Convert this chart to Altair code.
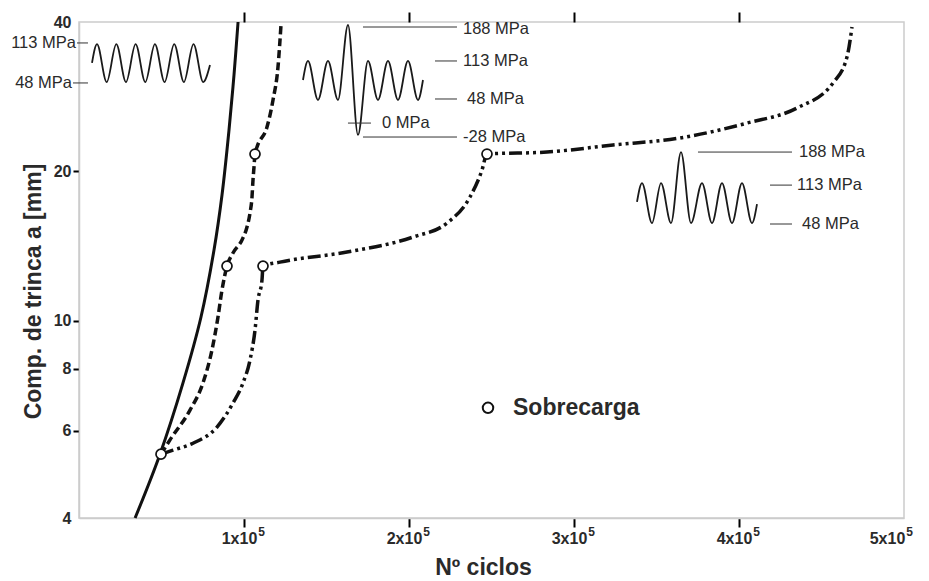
import altair as alt
import pandas as pd

# ---------- data ----------
# crack length curves: x = number of cycles, y = crack length a [mm]
const_x = [34000, 49090, 63030, 73940, 81820, 86670, 90900, 93930, 96400]
const_y = [4.0, 5.38, 7.49, 10.17, 13.88, 17.92, 24.2, 31.27, 40.0]

ol_x = [49700, 55150, 67270, 75150, 80600, 84240, 86670, 89700, 93330, 98790,
        101820, 103640, 104850, 105450, 106060, 106670, 107880, 113940, 117580,
        120600, 122420]
ol_y = [5.38, 5.75, 6.60, 7.49, 8.73, 10.17, 11.53, 12.88, 13.69, 14.54,
        15.44, 16.48, 17.75, 19.21, 20.40, 21.67, 22.39, 24.56, 27.85,
        32.46, 39.45]

olul_x = [49700, 56970, 69090, 83640, 93330, 99390, 103640, 106670, 108480,
          110910, 111520, 121820, 162420, 202420, 223030, 236970, 244240,
          247270, 283630, 323640, 364240, 404850, 435150, 456970, 465450, 468480]
olul_y = [5.38, 5.48, 5.66, 6.10, 6.82, 7.49, 8.33, 9.57, 11.00,
          12.08, 12.88, 13.12, 13.75, 14.74, 15.73, 17.75, 20.12,
          21.67, 21.87, 22.60, 23.35, 25.02, 26.83, 30.14, 34.0, 39.08]

# overload points (Sobrecarga)
over_x = [49700, 89700, 106670, 111520, 247270]
over_y = [5.38, 12.88, 21.67, 12.88, 21.67]

# schematic load signals (extrema of the drawn waves)
wave1_x = [7880, 10910, 16790, 22610, 28480, 34300, 40180, 46000, 51880,
           57700, 63570, 69390, 75270, 79390]
wave1_y = [33.08, 36.1, 30.27, 36.1, 30.27, 36.1, 30.27, 36.1, 30.27,
           36.1, 30.27, 36.1, 30.27, 32.76]
wave2_x = [135750, 138780, 144840, 150900, 156960, 163020, 169090, 175150,
           181210, 187270, 193330, 199390, 205450, 208480]
wave2_y = [30.56, 33.38, 27.85, 33.38, 27.85, 39.45, 23.68, 33.38,
           27.85, 33.38, 27.85, 33.38, 27.85, 30.56]
wave3_x = [338180, 341210, 347270, 352730, 358790, 364850, 370910, 377580,
           383640, 389700, 395760, 401820, 407880, 410910]
wave3_y = [17.35, 18.94, 15.73, 18.94, 15.73, 21.87, 15.73, 18.94,
           15.73, 18.94, 15.73, 18.94, 15.73, 17.18]

# stress level leader lines
lead_x1 = [-1210, -3640, 172120, 215760, 215760, 163020, 172120, 375150, 418790, 418790]
lead_x2 = [5450, 5450, 229090, 229090, 229090, 176960, 229090, 432120, 432120, 432120]
lead_y = [36.29, 30.14, 39.08, 33.38, 27.98, 25.02, 23.45, 21.87, 18.76, 15.66]

# stress level labels
lab_text = ["113 MPa", "48 MPa", "188 MPa", "113 MPa", "48 MPa", "0 MPa",
            "-28 MPa", "188 MPa", "113 MPa", "48 MPa"]
lab_x = [-1820, -4240, 232730, 232730, 235150, 183630, 232730, 436360, 435150, 438180]
lab_y = [36.29, 30.14, 38.8, 33.38, 27.98, 25.02, 23.45, 21.87, 18.76, 15.66]
lab_side = ["right", "right", "left", "left", "left", "left", "left", "left", "left", "left"]

legend_x = [247880]
legend_y = [6.67]
legend_label = ["Sobrecarga"]
legend_text_x = [263030]

x_ticks = [100000, 200000, 300000, 400000, 500000]
y_ticks = [4, 6, 8, 10, 20, 40]

# ---------- build tables ----------
def line_df(xs, ys):
    return pd.DataFrame({"x": xs, "y": ys, "i": range(len(xs))})

FONT = "Liberation Sans"
INK = "#111111"
TXT = "#2a2a2a"

xscale = alt.Scale(domain=[0, 500000], nice=False, zero=False)
yscale = alt.Scale(type="log", domain=[4, 40], nice=False)

y_axis = alt.Axis(
    values=y_ticks, format="d", title="Comp. de trinca a [mm]",
    tickSize=6, tickWidth=2, tickColor="#000000",
    tickOpacity={"condition": {"test": "datum.value == 4 || datum.value == 40", "value": 0}, "value": 1},
    labelPadding=2, grid=False,
    titleX=-46, titleY=269, titleAngle=270, titleAlign="center", titleBaseline="middle",
)
x_axis = alt.Axis(
    values=x_ticks, labelExpr="(datum.value/100000) + 'x10'", title="Nº ciclos",
    tickSize=9, tickWidth=2, tickColor="#000000",
    tickOpacity={"condition": {"test": "datum.value == 500000", "value": 0}, "value": 1},
    labelPadding=3, labelFlush=False,
    labelOffset={"condition": {"test": "datum.value == 500000", "value": -17}, "value": -5},
    grid=False,
    titleX=404, titleY=49, titleAlign="center", titleBaseline="middle",
)
x_sup = alt.Axis(
    values=x_ticks, labelExpr="'5'", title=None, orient="bottom",
    domain=False, ticks=False, tickSize=0, labelPadding=8, labelFlush=False,
    labelOffset={"condition": {"test": "datum.value == 500000", "value": 5}, "value": 17},
    labelFontSize=12, grid=False,
)
x_top = alt.Axis(
    values=[100000, 200000, 300000, 400000], orient="top", labels=False, title=None,
    domain=False, tickSize=10, tickWidth=2, tickColor="#000000", grid=False,
)

def X(axis=None):
    return alt.X("x:Q", scale=xscale, axis=axis)

def Y():
    return alt.Y("y:Q", scale=yscale, axis=y_axis)

solid = alt.Chart(line_df(const_x, const_y)).mark_line(
    strokeWidth=3, color=INK, interpolate="catmull-rom").encode(
    x=X(x_axis), y=Y(), order="i:Q")
dashed = alt.Chart(line_df(ol_x, ol_y)).mark_line(
    strokeWidth=3.5, strokeDash=[8, 4], color=INK, interpolate="monotone").encode(
    x=X(), y=Y(), order="i:Q")
dashdot = alt.Chart(line_df(olul_x, olul_y)).mark_line(
    strokeWidth=3.5, strokeDash=[13, 4, 3, 4, 3, 4], color=INK, interpolate="monotone").encode(
    x=X(), y=Y(), order="i:Q")

top_ticks = alt.Chart(line_df(x_ticks[:1], [40])).mark_point(opacity=0).encode(
    x=X(x_top), y=Y())
sup_labels = alt.Chart(line_df(x_ticks[:1], [40])).mark_point(opacity=0).encode(
    x=X(x_sup), y=Y())

waves = []
for wx, wy in [(wave1_x, wave1_y), (wave2_x, wave2_y), (wave3_x, wave3_y)]:
    waves.append(alt.Chart(line_df(wx, wy)).mark_line(
        strokeWidth=1.8, color="#1a1a1a", interpolate="monotone").encode(
        x=X(), y=Y(), order="i:Q"))

leads = alt.Chart(pd.DataFrame({"x": lead_x1, "x2": lead_x2, "y": lead_y})).mark_rule(
    strokeWidth=1, color="#333333").encode(x=X(), x2="x2:Q", y=Y())

labs = pd.DataFrame({"x": lab_x, "y": lab_y, "t": lab_text, "side": lab_side})
lab_right = alt.Chart(labs[labs.side == "right"]).mark_text(
    align="right", baseline="middle", font=FONT, fontSize=16.5, color=TXT).encode(
    x=X(), y=Y(), text="t:N")
lab_left = alt.Chart(labs[labs.side == "left"]).mark_text(
    align="left", baseline="middle", font=FONT, fontSize=16.5, color=TXT).encode(
    x=X(), y=Y(), text="t:N")

circles = alt.Chart(line_df(over_x, over_y)).mark_point(
    shape="circle", size=100, filled=True, fill="white", stroke=INK, strokeWidth=1.7, opacity=1).encode(
    x=X(), y=Y())

leg_pt = alt.Chart(line_df(legend_x, legend_y)).mark_point(
    shape="circle", size=110, filled=True, fill="white", stroke=INK, strokeWidth=2, opacity=1).encode(
    x=X(), y=Y())
leg_txt = alt.Chart(pd.DataFrame({"x": legend_text_x, "y": legend_y, "t": legend_label})).mark_text(
    align="left", baseline="middle", font=FONT, fontSize=23, fontWeight="bold", color=TXT).encode(
    x=X(), y=Y(), text="t:N")

chart = alt.layer(
    solid, top_ticks, sup_labels, *waves, leads, lab_right, lab_left, dashed, dashdot,
    circles, leg_pt, leg_txt
).resolve_axis(x="independent").properties(
    width=825, height=496,
    padding={"left": 79, "top": 22, "right": 25, "bottom": 63},
    autosize=alt.AutoSizeParams(type="none"),
).configure_view(
    stroke="#cccccc", strokeWidth=1.5
).configure_axis(
    domainColor="#cccccc", domainWidth=1.5,
    labelFont=FONT, labelFontSize=16, labelFontWeight="bold", labelColor=TXT,
    titleFont=FONT, titleFontSize=23, titleFontWeight="bold", titleColor=TXT,
)

chart.save("out.html", embed_options={"renderer": "svg", "actions": False})
